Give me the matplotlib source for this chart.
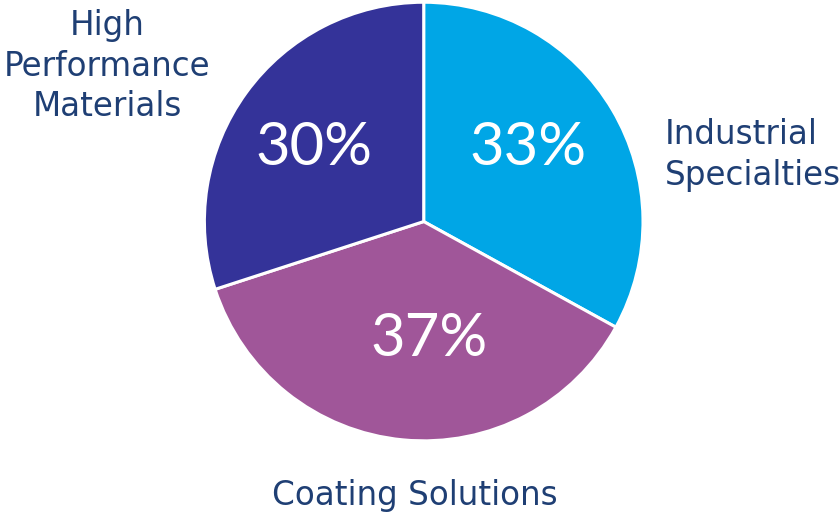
import matplotlib.pyplot as plt

# segment shares (clockwise from the top)
segments = ['Industrial\nSpecialties', 'Coating Solutions', 'High\nPerformance\nMaterials']
shares = [33, 37, 30]
colors = ['#00A6E6', '#A05699', '#343399']
text_color = '#1F3F74'

# where the percentage labels sit inside each wedge (data units)
pct_pos = [(0.477, 0.336), (0.023, -0.536), (-0.5, 0.336)]

fig = plt.figure(figsize=(8.39, 5.16), dpi=100)
ax = fig.add_axes([0.241, 0.1414, 0.528, 0.8585])

wedges, texts, autotexts = ax.pie(
    shares, colors=colors, startangle=90, counterclock=False,
    autopct='%d%%', pctdistance=0.58,
    wedgeprops=dict(edgecolor='white', linewidth=2.2),
    textprops=dict(color='white', fontsize=43, family='Lato'))
for t, p in zip(autotexts, pct_pos):
    t.set_position(p)
ax.set_xlim(-1.01, 1.01)
ax.set_ylim(-1.01, 1.01)
ax.set_aspect('auto')

# category labels outside the pie
fig.text(0.792, 0.70, segments[0], ha='left', va='center', fontsize=23.5,
         color=text_color, linespacing=1.3)
fig.text(0.495, 0.039, segments[1], ha='center', va='center', fontsize=23.5,
         color=text_color)
fig.text(0.1275, 0.872, segments[2], ha='center', va='center', fontsize=23.5,
         color=text_color, linespacing=1.3)

fig.savefig('out.png', dpi=100)
